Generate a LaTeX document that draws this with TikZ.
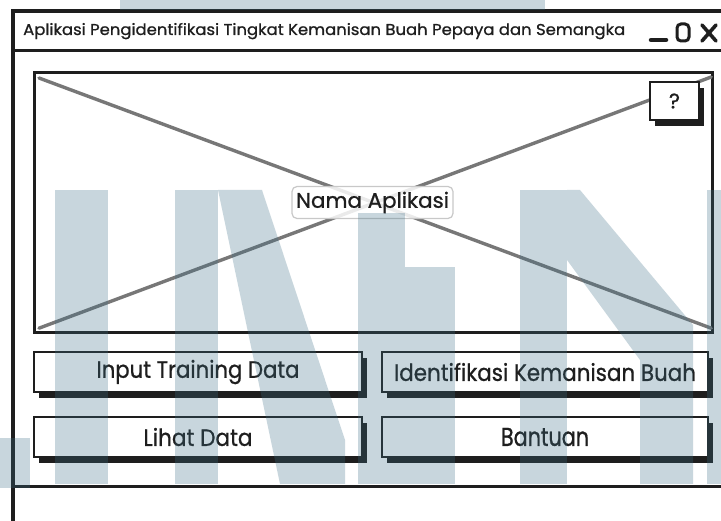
\documentclass[tikz,border=0pt]{standalone}
\usepackage{fontspec}
\setmainfont{Poppins}[FakeBold=0.9]
\usepackage{graphicx}
\usetikzlibrary{shadows}
\definecolor{ink}{HTML}{1E1E1E}
\definecolor{xgray}{HTML}{777777}
\definecolor{boxedge}{HTML}{C8C8C8}
\definecolor{wmblue}{HTML}{3D6F86}
\tikzset{
  frame/.style={draw=ink, line width=3.2pt},
  sepline/.style={draw=ink, line width=3pt},
  xline/.style={draw=xgray, line width=3.4pt, line cap=round},
  btn/.style={draw=ink, line width=2.4pt, fill=white, text=ink, inner sep=0pt,
    general shadow={fill=ink, shadow xshift=5pt, shadow yshift=-6pt}},
  namebox/.style={draw=boxedge, line width=1.2pt, rounded corners=5pt, fill=white,
    fill opacity=0.85, text opacity=1, text=ink, inner sep=0pt},
  ctrl/.style={draw=ink, line width=3.6pt, line cap=round},
  wmark/.style={fill=wmblue, fill opacity=0.28, draw=none},
}
\begin{document}
\begin{tikzpicture}[x=1pt,y=-1pt]
\useasboundingbox[fill=white] (0,0) rectangle (721,521);

% window frame, title bar separator and footer line
\draw[frame] (13,521) -- (13,11) -- (721,11);
\draw[sepline] (13,51) -- (721,51);
\draw[sepline] (13,487) -- (721,487);

% title
\node[anchor=base west, inner sep=0pt, text=ink] (title) at (23,35)
  {\resizebox{602pt}{12pt}{Aplikasi Pengidentifikasi Tingkat Kemanisan Buah Pepaya dan Semangka}};

% window controls: minimise, maximise, close
\coordinate (minA) at (651,40);
\coordinate (minB) at (666,40);
\draw[ctrl, line width=4.5pt] (minA) -- (minB);
\draw[ink, line width=3pt, rounded corners=4pt] (677,24) rectangle (689,41);
\coordinate (clA) at (702,25);
\coordinate (clB) at (716,41);
\coordinate (clC) at (702,41);
\coordinate (clD) at (716,25);
\draw[ctrl] (clA) -- (clB);
\draw[ctrl] (clC) -- (clD);

% image placeholder with crossed lines
\node[frame, minimum width=678pt, minimum height=260pt, anchor=north west, inner sep=0pt] (ph) at (33,71) {};
\draw[xline] ([shift={(6,7)}]ph.north west) -- ([shift={(-3,-6)}]ph.south east);
\draw[xline] ([shift={(6,-6)}]ph.south west) -- ([shift={(-3,6)}]ph.north east);

% label in the middle
\node[namebox, minimum width=161pt, minimum height=32pt] (appname) at (372.5,202.5)
  {\resizebox{153pt}{16pt}{Nama Aplikasi}};

% help button
\node[btn, minimum width=49pt, minimum height=38pt] (help) at (674.5,101)
  {\fontsize{21}{21}\selectfont ?};

% menu buttons
\node[btn, minimum width=328pt, minimum height=40pt] (input) at (198,372)
  {\resizebox{203pt}{18pt}{Input Training Data}};
\node[btn, minimum width=326pt, minimum height=40pt] (ident) at (545,372)
  {\resizebox{302pt}{18pt}{Identifikasi Kemanisan Buah}};
\node[btn, minimum width=328pt, minimum height=40pt] (lihat) at (198,437)
  {\resizebox{109pt}{18pt}{Lihat Data}};
\node[btn, minimum width=326pt, minimum height=40pt] (bantu) at (545,437)
  {\resizebox{88pt}{18pt}{Bantuan}};

% faint background mark laid over the layout
\fill[wmark] (120,0) rectangle (545,10);
\fill[wmark] (0,438) rectangle (30,488);
\fill[wmark] (55,190) rectangle (108,484);
\fill[wmark] (175,190) rectangle (218,484);
\fill[wmark] (218,190) -- (262,190) -- (345,440) -- (345,484) -- (280,484) -- cycle;
\fill[wmark] (358,213) rectangle (405,484);
\fill[wmark] (405,267) rectangle (455,484);
\fill[wmark] (520,190) rectangle (567,484);
\fill[wmark] (567,190) -- (580,190) -- (693,325) -- (693,484) -- (640,484) -- (640,360) -- (567,260) -- cycle;
\fill[wmark] (707,190) rectangle (721,484);
\end{tikzpicture}
\end{document}
